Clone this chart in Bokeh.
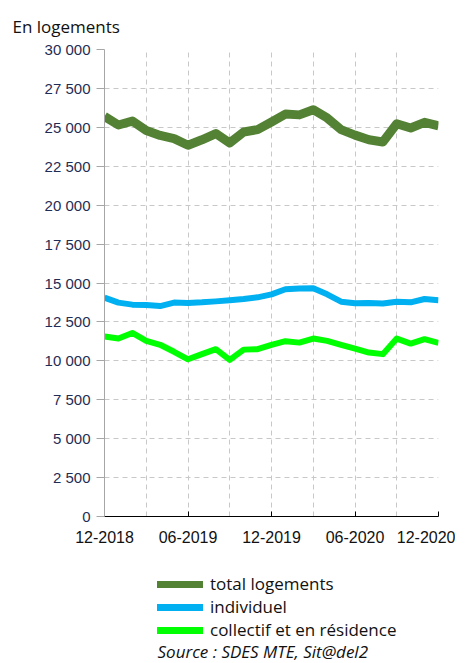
from bokeh.plotting import figure
from bokeh.models import Legend, LegendItem, FixedTicker, Range1d, Label
from bokeh.layouts import column
from bokeh.embed import file_html
from bokeh.resources import INLINE

# Monthly data, 12-2018 .. 12-2020 (25 months)
months = list(range(25))
total = [25700, 25150, 25400, 24800, 24480, 24270, 23850, 24200, 24600, 24000,
         24700, 24850, 25340, 25850, 25800, 26130, 25600, 24850, 24500, 24200,
         24060, 25230, 24960, 25320, 25100]
individuel = [14060, 13740, 13610, 13590, 13520, 13740, 13720, 13760, 13820, 13890,
              13970, 14080, 14270, 14600, 14640, 14660, 14270, 13800, 13700, 13720,
              13680, 13800, 13760, 13970, 13890]
collectif = [11560, 11430, 11790, 11280, 11030, 10580, 10100, 10430, 10750, 10060,
             10720, 10750, 11030, 11260, 11170, 11430, 11280, 11030, 10790, 10530,
             10430, 11430, 11110, 11390, 11150]
x_tick_pos = [0, 6, 12, 18, 24]
x_tick_labels = ["12-2018", "06-2019", "12-2019", "06-2020", "12-2020"]
y_ticks = list(range(0, 30001, 2500))
series_names = ["total logements", "individuel", "collectif et en résidence"]
colors = ["#548235", "#00b0f0", "#00ff00"]
source_text = "Source : SDES MTE, Sit@del2"

TICK_FONT = "Liberation Sans"
TEXT_FONT = "Open Sans"

p = figure(width=455, height=551, output_backend="svg", toolbar_location=None,
           x_range=Range1d(0, 24), y_range=Range1d(0, 30000),
           min_border_left=104, min_border_right=17, min_border_top=48,
           min_border_bottom=35)
p.outline_line_color = None
p.background_fill_color = "white"

# Title
p.title.text = "En logements"
p.title.align = "left"
p.title.offset = -92
p.title.text_font = TEXT_FONT
p.title.text_font_size = "17px"
p.title.text_font_style = "normal"
p.title.text_color = "#111111"
p.title.standoff = 24

# Axes
p.xaxis.ticker = FixedTicker(ticks=x_tick_pos)
p.xaxis.major_label_overrides = {t: l for t, l in zip(x_tick_pos, x_tick_labels)}
p.xaxis.axis_line_color = "#000000"
p.xaxis.major_tick_line_color = "#000000"
p.xaxis.major_tick_in = 5
p.xaxis.major_tick_out = 0
p.xaxis.minor_tick_line_color = None
p.xaxis.major_label_text_font = TICK_FONT
p.xaxis.major_label_text_font_size = "16px"
p.xaxis.major_label_text_color = "#111111"
p.xaxis.major_label_standoff = 14

p.yaxis.ticker = FixedTicker(ticks=y_ticks)
p.yaxis.major_label_overrides = {t: f"{t:,}".replace(",", " ") for t in y_ticks}
p.yaxis.axis_line_color = "#a6a6a6"
p.yaxis.major_tick_line_color = "#a6a6a6"
p.yaxis.major_tick_in = 0
p.yaxis.major_tick_out = 8
p.yaxis.minor_tick_line_color = None
p.yaxis.major_label_text_font = TICK_FONT
p.yaxis.major_label_text_font_size = "15px"
p.yaxis.major_label_text_color = "#1f2d55"
p.yaxis.major_label_standoff = 6

# Grids
p.xgrid.ticker = FixedTicker(ticks=list(range(3, 25, 3)))
p.xgrid.grid_line_color = "#c8c8c8"
p.xgrid.grid_line_dash = "5 4"
p.ygrid.ticker = FixedTicker(ticks=y_ticks[1:])
p.ygrid.grid_line_color = "#c8c8c8"
p.ygrid.grid_line_dash = "5 4"

p.line(months, total, line_color=colors[0], line_width=9, line_join="round")
p.line(months, individuel, line_color=colors[1], line_width=6, line_join="round")
p.line(months, collectif, line_color=colors[2], line_width=6, line_join="round")

# Legend + source panel (separate figure below the chart)
q = figure(width=455, height=112, output_backend="svg", toolbar_location=None,
           x_range=Range1d(1000, 1001), y_range=Range1d(0, 1),
           min_border=0, min_border_left=104)
q.axis.visible = False
q.grid.visible = False
q.outline_line_color = None
rs = [q.line(months, s, line_color=c, line_width=7, line_cap="round")
      for s, c in zip([total, individuel, collectif], colors)]

legend = Legend(items=[LegendItem(label=n, renderers=[r]) for n, r in zip(series_names, rs)],
                location=(53, 22), orientation="vertical",
                border_line_color=None, background_fill_alpha=0,
                padding=0, margin=0, spacing=0,
                glyph_width=46, glyph_height=20, label_height=20,
                label_standoff=7,
                label_text_font=TEXT_FONT, label_text_font_size="17px",
                label_text_color="#111111")
q.add_layout(legend, "center")
q.add_layout(Label(x=53, y=12, x_units="screen", y_units="screen", text=source_text,
                   text_font=TEXT_FONT, text_font_size="17px",
                   text_font_style="italic", text_color="#111111",
                   text_baseline="middle"))

open("out.html", "w").write(file_html(column(p, q, spacing=0), INLINE))
